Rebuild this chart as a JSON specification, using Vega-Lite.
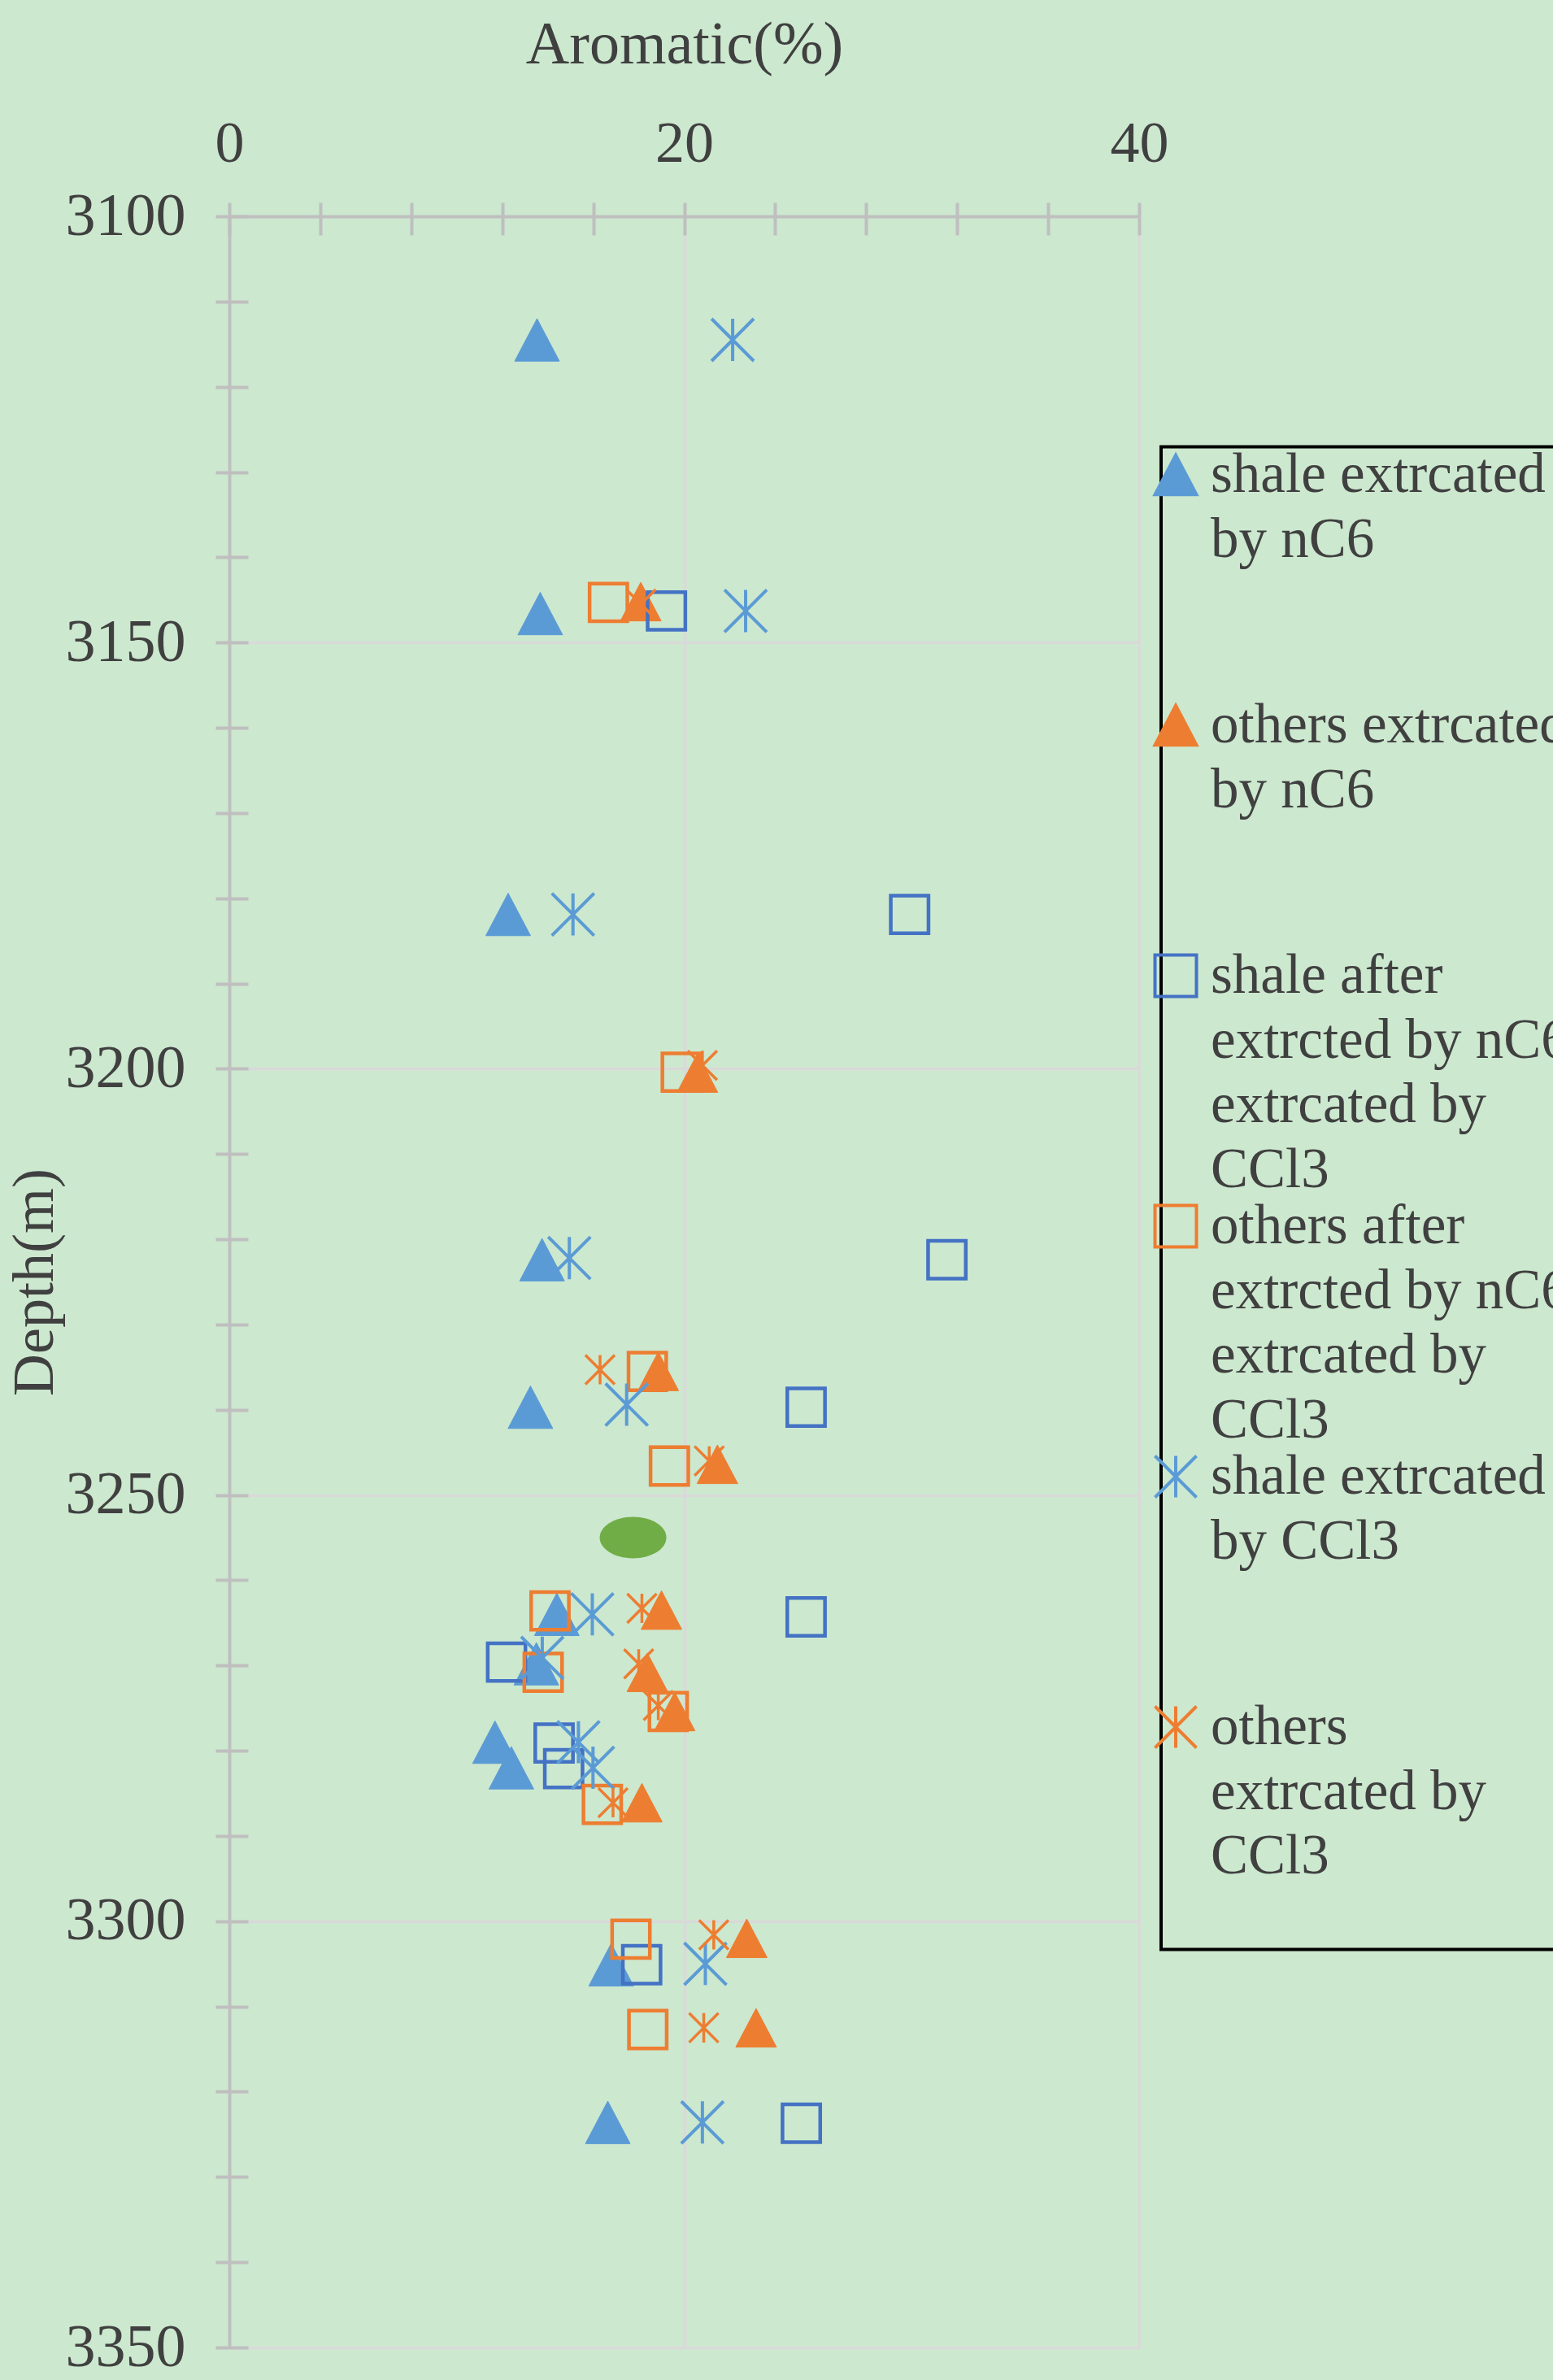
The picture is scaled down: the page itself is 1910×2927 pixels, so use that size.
{
  "$schema": "https://vega.github.io/schema/vega-lite/v6.json",
  "width": 1119,
  "height": 2621,
  "autosize": {"type": "none"},
  "padding": {"left": 282, "top": 266, "right": 509, "bottom": 40},
  "background": "#CCE8CF",
  "config": {
    "view": {"stroke": null},
    "font": "Liberation Serif",
    "style": {"guide-label": {"lineHeight": 79.5}},
    "axis": {
      "labelFont": "Liberation Serif",
      "titleFont": "Liberation Serif",
      "labelColor": "#404040",
      "titleColor": "#404040",
      "titleFontWeight": "normal",
      "tickColor": "#BFBFBF",
      "tickWidth": 4,
      "labelOverlap": false,
      "labelFlush": false,
      "labelBound": false
    },
    "legend": {
      "labelFont": "Liberation Serif",
      "labelFontSize": 69,
      "labelColor": "#404040",
      "labelLimit": 3000,
      "labelBaseline": "middle",
      "symbolSize": 2600,
      "symbolStrokeWidth": 4,
      "strokeColor": "#000000",
      "strokeWidth": 4
    }
  },
  "data": {
    "values": [
      {"series": "shale extrcated by nC6", "aromatic": 13.53, "depth": 3114.5},
      {"series": "shale extrcated by nC6", "aromatic": 13.67, "depth": 3146.6},
      {"series": "shale extrcated by nC6", "aromatic": 12.26, "depth": 3181.9},
      {"series": "shale extrcated by nC6", "aromatic": 13.75, "depth": 3222.4},
      {"series": "shale extrcated by nC6", "aromatic": 13.24, "depth": 3239.7},
      {"series": "shale extrcated by nC6", "aromatic": 14.4, "depth": 3264.0},
      {"series": "shale extrcated by nC6", "aromatic": 13.5, "depth": 3269.8},
      {"series": "shale extrcated by nC6", "aromatic": 11.68, "depth": 3279.0},
      {"series": "shale extrcated by nC6", "aromatic": 12.4, "depth": 3282.0},
      {"series": "shale extrcated by nC6", "aromatic": 16.79, "depth": 3305.1},
      {"series": "shale extrcated by nC6", "aromatic": 16.64, "depth": 3323.6},
      {"series": "others extrcated by nC6", "aromatic": 18.09, "depth": 3145.2},
      {"series": "others extrcated by nC6", "aromatic": 20.58, "depth": 3200.5},
      {"series": "others extrcated by nC6", "aromatic": 18.86, "depth": 3235.5},
      {"series": "others extrcated by nC6", "aromatic": 21.46, "depth": 3246.4},
      {"series": "others extrcated by nC6", "aromatic": 19.0, "depth": 3263.5},
      {"series": "others extrcated by nC6", "aromatic": 18.38, "depth": 3270.8},
      {"series": "others extrcated by nC6", "aromatic": 19.58, "depth": 3275.4},
      {"series": "others extrcated by nC6", "aromatic": 18.14, "depth": 3286.1},
      {"series": "others extrcated by nC6", "aromatic": 22.75, "depth": 3302.0},
      {"series": "others extrcated by nC6", "aromatic": 23.16, "depth": 3312.5},
      {"series": "shale after extrcted by nC6 extrcated by CCl3", "aromatic": 19.22, "depth": 3146.3},
      {"series": "shale after extrcted by nC6 extrcated by CCl3", "aromatic": 29.91, "depth": 3181.9},
      {"series": "shale after extrcted by nC6 extrcated by CCl3", "aromatic": 31.55, "depth": 3222.4},
      {"series": "shale after extrcted by nC6 extrcated by CCl3", "aromatic": 25.36, "depth": 3239.7},
      {"series": "shale after extrcted by nC6 extrcated by CCl3", "aromatic": 25.36, "depth": 3264.3},
      {"series": "shale after extrcted by nC6 extrcated by CCl3", "aromatic": 12.19, "depth": 3269.6},
      {"series": "shale after extrcted by nC6 extrcated by CCl3", "aromatic": 14.28, "depth": 3279.1},
      {"series": "shale after extrcted by nC6 extrcated by CCl3", "aromatic": 14.7, "depth": 3282.1},
      {"series": "shale after extrcted by nC6 extrcated by CCl3", "aromatic": 18.13, "depth": 3305.1},
      {"series": "shale after extrcted by nC6 extrcated by CCl3", "aromatic": 25.15, "depth": 3323.7},
      {"series": "others after extrcted by nC6 extrcated by CCl3", "aromatic": 16.67, "depth": 3145.3},
      {"series": "others after extrcted by nC6 extrcated by CCl3", "aromatic": 19.87, "depth": 3200.4},
      {"series": "others after extrcted by nC6 extrcated by CCl3", "aromatic": 18.38, "depth": 3235.5},
      {"series": "others after extrcted by nC6 extrcated by CCl3", "aromatic": 19.35, "depth": 3246.6},
      {"series": "others after extrcted by nC6 extrcated by CCl3", "aromatic": 14.1, "depth": 3263.6},
      {"series": "others after extrcted by nC6 extrcated by CCl3", "aromatic": 13.8, "depth": 3270.8},
      {"series": "others after extrcted by nC6 extrcated by CCl3", "aromatic": 19.3, "depth": 3275.4},
      {"series": "others after extrcted by nC6 extrcated by CCl3", "aromatic": 16.4, "depth": 3286.3},
      {"series": "others after extrcted by nC6 extrcated by CCl3", "aromatic": 17.66, "depth": 3302.1},
      {"series": "others after extrcted by nC6 extrcated by CCl3", "aromatic": 18.4, "depth": 3312.7},
      {"series": "shale extrcated by CCl3", "aromatic": 22.13, "depth": 3114.5},
      {"series": "shale extrcated by CCl3", "aromatic": 22.7, "depth": 3146.3},
      {"series": "shale extrcated by CCl3", "aromatic": 15.11, "depth": 3181.9},
      {"series": "shale extrcated by CCl3", "aromatic": 14.95, "depth": 3222.2},
      {"series": "shale extrcated by CCl3", "aromatic": 17.47, "depth": 3239.4},
      {"series": "shale extrcated by CCl3", "aromatic": 15.96, "depth": 3264.0},
      {"series": "shale extrcated by CCl3", "aromatic": 13.76, "depth": 3269.1},
      {"series": "shale extrcated by CCl3", "aromatic": 15.35, "depth": 3279.0},
      {"series": "shale extrcated by CCl3", "aromatic": 15.99, "depth": 3282.0},
      {"series": "shale extrcated by CCl3", "aromatic": 20.93, "depth": 3305.0},
      {"series": "shale extrcated by CCl3", "aromatic": 20.8, "depth": 3323.6},
      {"series": "others extrcated by CCl3", "aromatic": 18.1, "depth": 3145.5},
      {"series": "others extrcated by CCl3", "aromatic": 20.8, "depth": 3199.6},
      {"series": "others extrcated by CCl3", "aromatic": 16.3, "depth": 3235.3},
      {"series": "others extrcated by CCl3", "aromatic": 21.1, "depth": 3246.0},
      {"series": "others extrcated by CCl3", "aromatic": 18.14, "depth": 3263.3},
      {"series": "others extrcated by CCl3", "aromatic": 18.0, "depth": 3269.8},
      {"series": "others extrcated by CCl3", "aromatic": 18.86, "depth": 3274.7},
      {"series": "others extrcated by CCl3", "aromatic": 16.87, "depth": 3286.1},
      {"series": "others extrcated by CCl3", "aromatic": 21.3, "depth": 3301.6},
      {"series": "others extrcated by CCl3", "aromatic": 20.86, "depth": 3312.5},
      {"series": "marker", "aromatic": 17.75, "depth": 3255.0}
    ]
  },
  "mark": {"type": "point", "opacity": 1},
  "encoding": {
    "x": {
      "field": "aromatic",
      "type": "quantitative",
      "scale": {"domain": [0, 40], "nice": false, "zero": false},
      "axis": {
        "orient": "top",
        "title": "Aromatic(%)",
        "titleFontSize": 74,
        "titlePadding": 47,
        "values": [0, 4, 8, 12, 16, 20, 24, 28, 32, 36, 40],
        "format": "d",
        "labelExpr": "datum.value % 20 === 0 ? datum.label : ''",
        "labelFontSize": 72,
        "labelAngle": 0,
        "labelPadding": 36,
        "domain": false,
        "offset": -23,
        "tickSize": 40,
        "grid": true,
        "gridColor": {"condition": {"test": "datum.value === 0", "value": "#BFBFBF"}, "value": "#D9D9D9"},
        "gridOpacity": {"condition": {"test": "datum.value % 20 === 0", "value": 1}, "value": 0},
        "gridWidth": {"condition": {"test": "datum.value === 0", "value": 4}, "value": 3.5}
      }
    },
    "y": {
      "field": "depth",
      "type": "quantitative",
      "scale": {"domain": [3100, 3350], "reverse": true, "nice": false, "zero": false},
      "axis": {
        "title": "Depth(m)",
        "titleFontSize": 72,
        "titlePadding": 26,
        "values": [3100, 3110, 3120, 3130, 3140, 3150, 3160, 3170, 3180, 3190, 3200, 3210, 3220, 3230, 3240, 3250, 3260, 3270, 3280, 3290, 3300, 3310, 3320, 3330, 3340, 3350],
        "format": "d",
        "labelExpr": "datum.value % 50 === 0 ? datum.label : ''",
        "labelFontSize": 74,
        "labelPadding": 37,
        "domain": false,
        "offset": -23,
        "tickSize": 40,
        "grid": true,
        "gridColor": {"condition": {"test": "datum.value === 3100", "value": "#BFBFBF"}, "value": "#D9D9D9"},
        "gridOpacity": {"condition": {"test": "datum.value % 50 === 0", "value": 1}, "value": 0},
        "gridWidth": {"condition": {"test": "datum.value === 3100", "value": 4}, "value": 3.5}
      }
    },
    "shape": {
      "field": "series",
      "type": "nominal",
      "scale": {
        "domain": ["shale extrcated by nC6", "others extrcated by nC6", "shale after extrcted by nC6 extrcated by CCl3", "others after extrcted by nC6 extrcated by CCl3", "shale extrcated by CCl3", "others extrcated by CCl3", "marker"],
        "range": ["M0,-0.95L1,0.95L-1,0.95Z", "M0,-0.95L1,0.95L-1,0.95Z", "square", "square", "M-1,-1L1,1M-1,1L1,-1M0,-1L0,1", "M-1,-1L1,1M-1,1L1,-1M0,-1L0,1", "M-1,0A1,0.62,0,1,0,1,0A1,0.62,0,1,0,-1,0Z"]
      },
      "legend": {
        "title": null,
        "orient": "none",
        "legendX": 1146,
        "legendY": 283.5,
        "direction": "vertical",
        "padding": 0,
        "symbolOffset": -16.5,
        "labelOffset": 8.5,
        "rowPadding": -11.5,
        "values": ["shale extrcated by nC6", "others extrcated by nC6", "shale after extrcted by nC6 extrcated by CCl3", "others after extrcted by nC6 extrcated by CCl3", "shale extrcated by CCl3", "others extrcated by CCl3"],
        "labelExpr": "datum.label === 'shale extrcated by nC6' ? ['shale extrcated','by nC6',' ',' '] : datum.label === 'others extrcated by nC6' ? ['others extrcated','by nC6',' ',' '] : datum.label === 'shale after extrcted by nC6 extrcated by CCl3' ? ['shale after','extrcted by nC6','extrcated by','CCl3'] : datum.label === 'others after extrcted by nC6 extrcated by CCl3' ? ['others after','extrcted by nC6','extrcated by','CCl3'] : datum.label === 'shale extrcated by CCl3' ? ['shale extrcated','by CCl3',' ',' '] : ['others','extrcated by','CCl3',' ']"
      }
    },
    "fill": {
      "field": "series",
      "type": "nominal",
      "scale": {
        "domain": ["shale extrcated by nC6", "others extrcated by nC6", "shale after extrcted by nC6 extrcated by CCl3", "others after extrcted by nC6 extrcated by CCl3", "shale extrcated by CCl3", "others extrcated by CCl3", "marker"],
        "range": ["#5B9BD5", "#ED7D31", "transparent", "transparent", "transparent", "transparent", "#70AD47"]
      },
      "legend": {
        "title": null,
        "orient": "none",
        "legendX": 1146,
        "legendY": 283.5,
        "direction": "vertical",
        "padding": 0,
        "symbolOffset": -16.5,
        "labelOffset": 8.5,
        "rowPadding": -11.5,
        "values": ["shale extrcated by nC6", "others extrcated by nC6", "shale after extrcted by nC6 extrcated by CCl3", "others after extrcted by nC6 extrcated by CCl3", "shale extrcated by CCl3", "others extrcated by CCl3"],
        "labelExpr": "datum.label === 'shale extrcated by nC6' ? ['shale extrcated','by nC6',' ',' '] : datum.label === 'others extrcated by nC6' ? ['others extrcated','by nC6',' ',' '] : datum.label === 'shale after extrcted by nC6 extrcated by CCl3' ? ['shale after','extrcted by nC6','extrcated by','CCl3'] : datum.label === 'others after extrcted by nC6 extrcated by CCl3' ? ['others after','extrcted by nC6','extrcated by','CCl3'] : datum.label === 'shale extrcated by CCl3' ? ['shale extrcated','by CCl3',' ',' '] : ['others','extrcated by','CCl3',' ']"
      }
    },
    "stroke": {
      "field": "series",
      "type": "nominal",
      "scale": {
        "domain": ["shale extrcated by nC6", "others extrcated by nC6", "shale after extrcted by nC6 extrcated by CCl3", "others after extrcted by nC6 extrcated by CCl3", "shale extrcated by CCl3", "others extrcated by CCl3", "marker"],
        "range": ["#5B9BD5", "#ED7D31", "#4472C4", "#ED7D31", "#5B9BD5", "#ED7D31", "#70AD47"]
      },
      "legend": {
        "title": null,
        "orient": "none",
        "legendX": 1146,
        "legendY": 283.5,
        "direction": "vertical",
        "padding": 0,
        "symbolOffset": -16.5,
        "labelOffset": 8.5,
        "rowPadding": -11.5,
        "values": ["shale extrcated by nC6", "others extrcated by nC6", "shale after extrcted by nC6 extrcated by CCl3", "others after extrcted by nC6 extrcated by CCl3", "shale extrcated by CCl3", "others extrcated by CCl3"],
        "labelExpr": "datum.label === 'shale extrcated by nC6' ? ['shale extrcated','by nC6',' ',' '] : datum.label === 'others extrcated by nC6' ? ['others extrcated','by nC6',' ',' '] : datum.label === 'shale after extrcted by nC6 extrcated by CCl3' ? ['shale after','extrcted by nC6','extrcated by','CCl3'] : datum.label === 'others after extrcted by nC6 extrcated by CCl3' ? ['others after','extrcted by nC6','extrcated by','CCl3'] : datum.label === 'shale extrcated by CCl3' ? ['shale extrcated','by CCl3',' ',' '] : ['others','extrcated by','CCl3',' ']"
      }
    },
    "size": {
      "field": "series",
      "type": "nominal",
      "scale": {
        "type": "ordinal",
        "domain": ["marker", "others extrcated by CCl3", "shale extrcated by CCl3", "others after extrcted by nC6 extrcated by CCl3", "shale after extrcted by nC6 extrcated by CCl3", "others extrcated by nC6", "shale extrcated by nC6"],
        "range": [6724, 1300, 2700, 2150, 2150, 2500, 3025]
      },
      "legend": null
    },
    "strokeWidth": {
      "field": "series",
      "type": "nominal",
      "scale": {
        "type": "ordinal",
        "domain": ["marker", "others extrcated by CCl3", "shale extrcated by CCl3", "others after extrcted by nC6 extrcated by CCl3", "shale after extrcted by nC6 extrcated by CCl3", "others extrcated by nC6", "shale extrcated by nC6"],
        "range": [0, 3.5, 4, 4.5, 4.5, 1, 1]
      },
      "legend": null
    }
  }
}
